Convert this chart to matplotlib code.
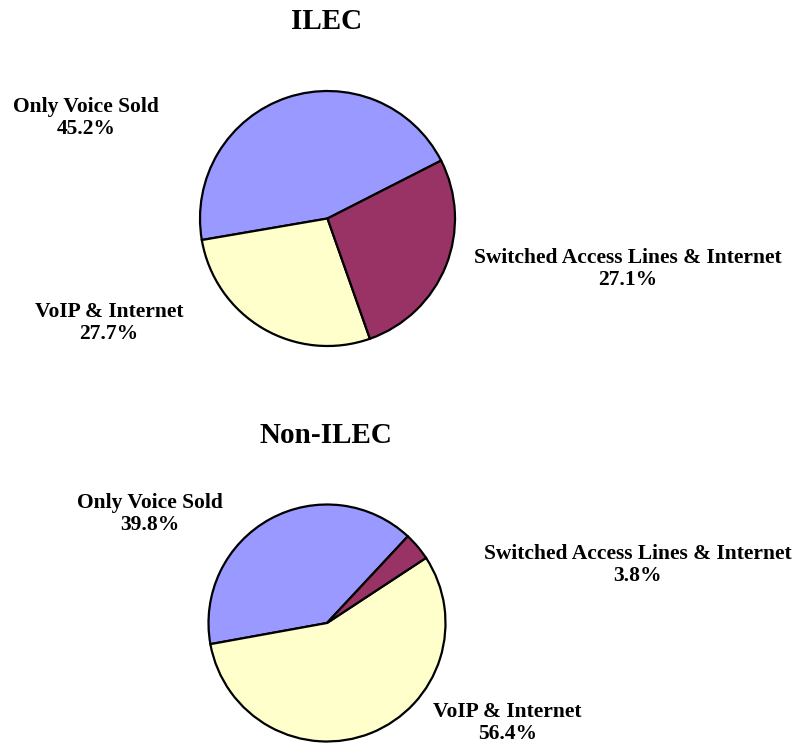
import matplotlib
matplotlib.use("Agg")
import matplotlib.pyplot as plt

# données
categories = ['Only Voice Sold', 'VoIP & Internet', 'Switched Access Lines & Internet']
ilec_values = [45.2, 27.7, 27.1]
non_ilec_values = [39.8, 56.4, 3.8]
titles = ['ILEC', 'Non-ILEC']
colors = ['#9999FF', '#FFFFCC', '#993366']

# mise en page (pixels, origine en haut à gauche)
W, H = 796, 746
pie_centers = [(327.5, 218.5), (327.0, 623.0)]
pie_radius = [127.5, 118.5]
start_angles = [27, 47]
title_pos = [(326.5, 29), (325.5, 443)]
label_pos = [
    [(86, 112), (109, 317), (628, 263)],
    [(150, 508), (507.5, 717), (637.5, 559)],
]
line_gap = 22

plt.rcParams['font.family'] = ['Liberation Serif', 'DejaVu Serif']

fig = plt.figure(figsize=(W / 100, H / 100), dpi=100)
ax = fig.add_axes([0, 0, 1, 1])

for k, values in enumerate([ilec_values, non_ilec_values]):
    cx, cy = pie_centers[k]
    ax.pie(values, colors=colors, startangle=start_angles[k], counterclock=True,
           center=(cx, H - cy), radius=pie_radius[k],
           wedgeprops=dict(edgecolor='black', linewidth=1.6))

    tx, ty = title_pos[k]
    ax.text(tx, H - ty, titles[k], ha='center', va='baseline',
            fontsize=21, fontweight='bold')

    for name, val, (lx, ly) in zip(categories, values, label_pos[k]):
        ax.text(lx, H - ly, name, ha='center', va='baseline',
                fontsize=15.5, fontweight='bold')
        ax.text(lx, H - ly - line_gap, f'{val:.1f}%', ha='center', va='baseline',
                fontsize=15.5, fontweight='bold')

ax.set_xlim(0, W)
ax.set_ylim(0, H)
ax.set_aspect('auto')
ax.axis('off')

fig.savefig('out.png', dpi=100, facecolor='white')
